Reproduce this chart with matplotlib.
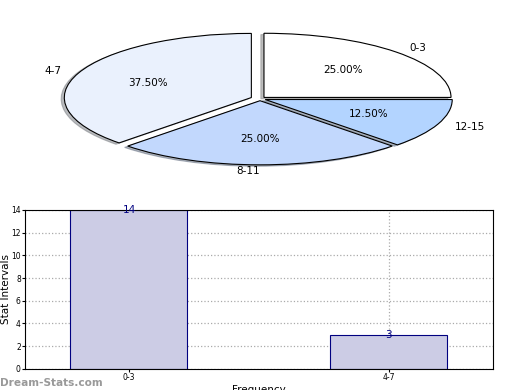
import matplotlib
matplotlib.use("Agg")
import matplotlib.pyplot as plt

# datos
pie_labels = ["0-3", "4-7", "8-11", "12-15"]
pie_values = [25.0, 37.5, 25.0, 12.5]
pie_colors = ["#ffffff", "#eaf1fd", "#c2d8fd", "#b3d4ff"]

bar_labels = ["0-3", "4-7"]
bar_values = [14, 3]

fig = plt.figure(figsize=(5.2, 3.9), dpi=100)

# pastel (aplastado)
ax1 = fig.add_axes([0, 0.5, 1, 0.5])
wedges, texts, autotexts = ax1.pie(
    pie_values, labels=pie_labels, colors=pie_colors, explode=[0.03, 0.05, 0.03, 0.03],
    autopct="%.2f%%", pctdistance=0.6, labeldistance=1.1,
    shadow={"ox": -0.012, "oy": -0.015, "shade": 0.5},
    startangle=0, counterclock=True,
    wedgeprops={"edgecolor": "black", "linewidth": 0.8},
    textprops={"fontsize": 7.5})
texts[2].set_ha("right")
ax1.set_aspect("auto")
ax1.set_xlim(-1.39, 1.39)
ax1.set_ylim(-1.50, 1.54)
ax1.axis("off")

# barras
ax2 = fig.add_axes([0.048, 0.054, 0.9, 0.408])
x = range(len(bar_labels))
ax2.bar(x, bar_values, width=0.45, color="#ccccE5", edgecolor="navy", linewidth=0.8, zorder=2)
for i, v in zip(x, bar_values):
    ax2.text(i, v, str(v), ha="center", va="center", color="navy", fontsize=7.5)
ax2.set_xlim(-0.4, 1.4)
ax2.set_ylim(0, 14)
ax2.set_xticks(list(x))
ax2.set_xticklabels(bar_labels)
ax2.set_yticks(range(0, 15, 2))
ax2.tick_params(labelsize=5.5, length=2, pad=1)
ax2.grid(True, linestyle=":", color="#aaaaaa", linewidth=0.9, zorder=0)
ax2.set_axisbelow(True)
ax2.set_ylabel("Stat Intervals", fontsize=7.5, labelpad=0)
ax2.set_xlabel("Frequency", fontsize=7.5, labelpad=2)

fig.text(0.0, 0.01, "Dream-Stats.com", color="#999999", fontsize=7.6, fontweight="bold")

fig.savefig("out.png", dpi=100)
